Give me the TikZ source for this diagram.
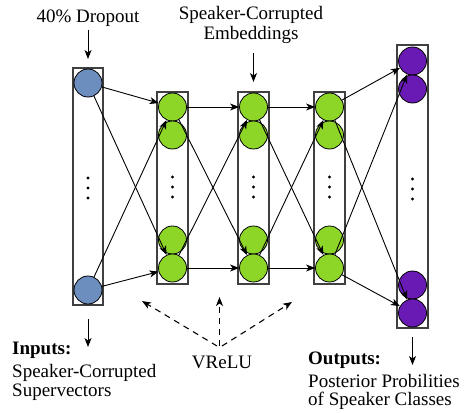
\documentclass[tikz,border=0pt]{standalone}
\usepackage{fontspec}
\setmainfont{Liberation Serif}
\usetikzlibrary{arrows.meta}
\definecolor{inblue}{RGB}{108,142,191}
\definecolor{hidgreen}{RGB}{141,214,40}
\definecolor{outpurple}{RGB}{106,26,180}
\tikzset{
  layerbox/.style={draw=black!75, line width=1.3pt, fill=white},
  neuron/.style={circle, draw=black, line width=0.8pt, minimum size=28pt, inner sep=0pt},
  conn/.style={line width=0.9pt, -{Stealth[length=9pt,width=7pt,inset=2.5pt]}},
  dasharrow/.style={line width=1.1pt, dashed, dash pattern=on 6pt off 5pt, -{Stealth[length=9pt,width=7pt,inset=2.5pt]}},
  lbl/.style={font=\fontsize{19}{21}\selectfont, inner sep=0pt},
  dotmark/.style={circle, fill=black, inner sep=0pt, minimum size=3.2pt},
}
\begin{document}
\begin{tikzpicture}[x=1pt,y=-1pt]
\useasboundingbox (0,0) rectangle (470,412);
% boxes
\draw[layerbox] (73,68) rectangle (103,305);
\draw[layerbox] (157,92) rectangle (188,284);
\draw[layerbox] (238,92) rectangle (269,284);
\draw[layerbox] (314,92) rectangle (345,284);
\draw[layerbox] (397,45) rectangle (428,328);
\coordinate (iboxtop) at (88,59);
\coordinate (iboxbot) at (88,319);
\coordinate (l2top) at (253.5,82);
\coordinate (oboxbot) at (412.5,337);
% neurons
\node[neuron, fill=inblue] (i1) at (88,83) {};
\node[neuron, fill=inblue] (i2) at (88,290) {};
\foreach \n/\x in {a/172.5,b/253.5,c/329.5}{
  \node[neuron, fill=hidgreen] (\n1) at (\x,107) {};
  \node[neuron, fill=hidgreen] (\n2) at (\x,135) {};
  \node[neuron, fill=hidgreen] (\n3) at (\x,240) {};
  \node[neuron, fill=hidgreen] (\n4) at (\x,268) {};
  \node[dotmark] (\n d1) at (\x,177) {};
  \node[dotmark] (\n d2) at (\x,187) {};
  \node[dotmark] (\n d3) at (\x,197) {};
}
\node[neuron, fill=outpurple] (o1) at (412.5,61) {};
\node[neuron, fill=outpurple] (o2) at (412.5,89) {};
\node[neuron, fill=outpurple] (o3) at (412.5,285) {};
\node[neuron, fill=outpurple] (o4) at (412.5,313) {};
\node[dotmark] (id1) at (88,178) {};
\node[dotmark] (id2) at (88,188) {};
\node[dotmark] (id3) at (88,198) {};
\node[dotmark] (od1) at (412.5,179) {};
\node[dotmark] (od2) at (412.5,189) {};
\node[dotmark] (od3) at (412.5,199) {};
% connections
\draw[conn] (i1) -- (a1);
\draw[conn] (i1) -- (a4);
\draw[conn] (i2) -- (a1);
\draw[conn] (i2) -- (a4);
\draw[conn] (a1) -- (b1);
\draw[conn] (a1) -- (b4);
\draw[conn] (a4) -- (b1);
\draw[conn] (a4) -- (b4);
\draw[conn] (b1) -- (c1);
\draw[conn] (b1) -- (c4);
\draw[conn] (b4) -- (c1);
\draw[conn] (b4) -- (c4);
\draw[conn] (c1) -- (o1);
\draw[conn] (c1) -- (o4);
\draw[conn] (c4) -- (o1);
\draw[conn] (c4) -- (o4);
% labels
\node[lbl, anchor=base] (drop) at (88,22.5) {40\% Dropout};
\draw[conn] (88,30) -- (iboxtop);
\node[lbl, anchor=base] (emb1) at (251,20) {Speaker-Corrupted};
\node[lbl, anchor=base] (emb2) at (251,40) {Embeddings};
\draw[conn] (253.5,53) -- (l2top);
\node[lbl, anchor=base west, font=\fontsize{19}{21}\selectfont\bfseries] (inp) at (12,354) {Inputs:};
\node[lbl, anchor=base west] (inp2) at (12,377) {Speaker-Corrupted};
\node[lbl, anchor=base west] (inp3) at (12,396) {Supervectors};
\draw[conn] (iboxbot) -- (88,347);
\node[lbl, anchor=base west, font=\fontsize{19}{21}\selectfont\bfseries] (outp) at (308,364) {Outputs:};
\node[lbl, anchor=base west] (outp2) at (308,387) {Posterior Probilities};
\node[lbl, anchor=base west] (outp3) at (308,405) {of Speaker Classes};
\draw[conn] (oboxbot) -- (412.5,365);
\node[lbl, anchor=base] (vrelu) at (222,368) {VReLU};
\coordinate (vl) at (142,301);
\coordinate (vm) at (219.5,297);
\coordinate (vr) at (292,302);
\draw[dasharrow] (217,346) -- (vl);
\draw[dasharrow] (219.5,346) -- (vm);
\draw[dasharrow] (222,346) -- (vr);
\end{tikzpicture}
\end{document}
